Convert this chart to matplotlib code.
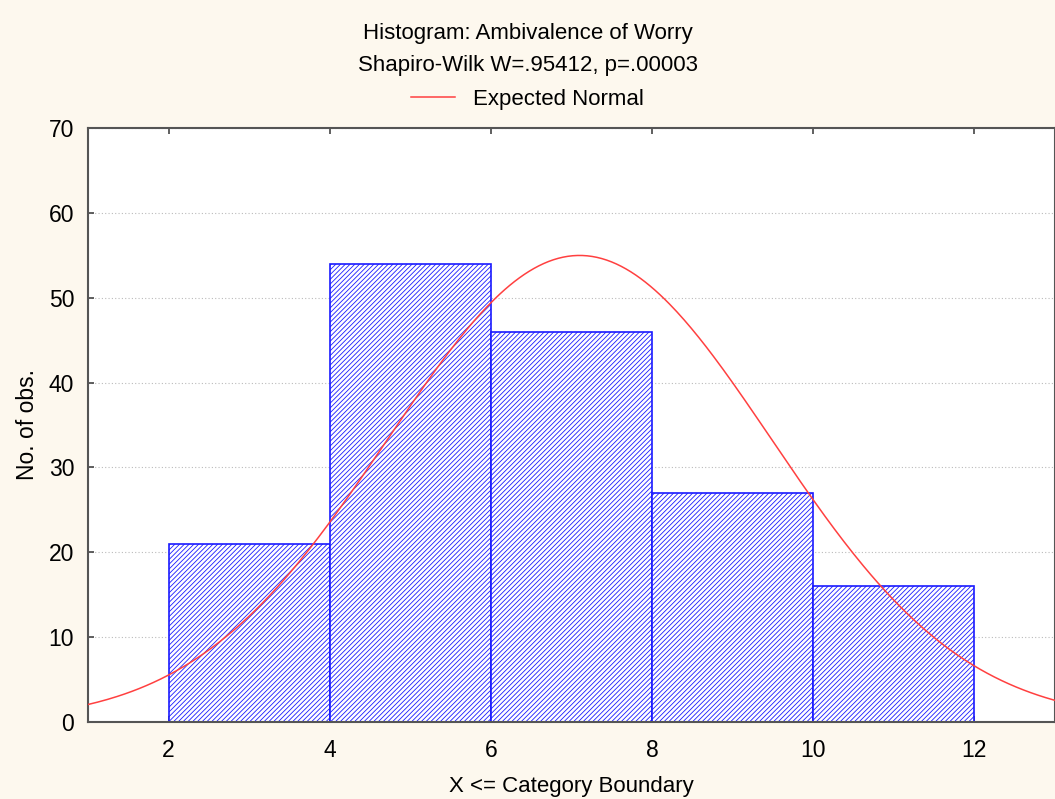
import numpy as np
import matplotlib
matplotlib.use("Agg")
import matplotlib.pyplot as plt

# category boundaries and counts per bin
bin_edges = [2, 4, 6, 8, 10, 12]
counts = [21, 54, 46, 27, 16]

# expected normal parameters
n_obs = 164
fit_mean = 7.1
fit_sd = 2.38

plt.rcParams["font.family"] = ["Liberation Sans", "DejaVu Sans"]
plt.rcParams["hatch.linewidth"] = 0.6
plt.rcParams["hatch.color"] = "#3535f5"

bg = "#fdf8ee"
fig = plt.figure(figsize=(10.55, 7.99), dpi=100, facecolor=bg)
ax = fig.add_axes([0.0834, 0.0964, 0.9166, 0.7434])
ax.set_facecolor("white")

lefts = np.array(bin_edges[:-1])
widths = np.diff(bin_edges)
ax.bar(lefts, counts, width=widths, align="edge", facecolor="white",
       edgecolor="#1a1aff", linewidth=1.2, hatch="///////", zorder=2)

bw = widths[0]
xs = np.linspace(1, 13, 400)
ys = n_obs * bw * np.exp(-0.5 * ((xs - fit_mean) / fit_sd) ** 2) / (fit_sd * np.sqrt(2 * np.pi))
line, = ax.plot(xs, ys, color="#ff4040", linewidth=1.1, zorder=3)

ax.set_xlim(1, 13)
ax.set_ylim(0, 70)
ax.set_xticks([2, 4, 6, 8, 10, 12])
ax.set_yticks(range(0, 71, 10))
ax.yaxis.grid(True, linestyle=(0, (1, 2)), color="#bbbbbb", linewidth=0.8, zorder=0)
ax.set_axisbelow(True)
ax.tick_params(direction="in", length=4, width=1.2, color="#444444",
               labelsize=16.5, top=True, right=False, pad=10)
ax.tick_params(axis="x", pad=12)
for s in ax.spines.values():
    s.set_color("#555555")
    s.set_linewidth(1.5)

ax.set_xlabel("X <= Category Boundary", fontsize=16, labelpad=10)
ax.set_ylabel("No. of obs.", fontsize=16.5, labelpad=7)

fig.text(0.5, 1 - 33 / 799, "Histogram: Ambivalence of Worry", ha="center", va="center", fontsize=16)
fig.text(0.5, 1 - 66 / 799, "Shapiro-Wilk W=.95412, p=.00003", ha="center", va="center", fontsize=16)
fig.legend([line], ["Expected Normal"], loc="center", bbox_to_anchor=(0.5, 1 - 99 / 799),
           frameon=False, fontsize=16, handlelength=2.0, handletextpad=0.8)

fig.savefig("out.png", dpi=100, facecolor=bg)
